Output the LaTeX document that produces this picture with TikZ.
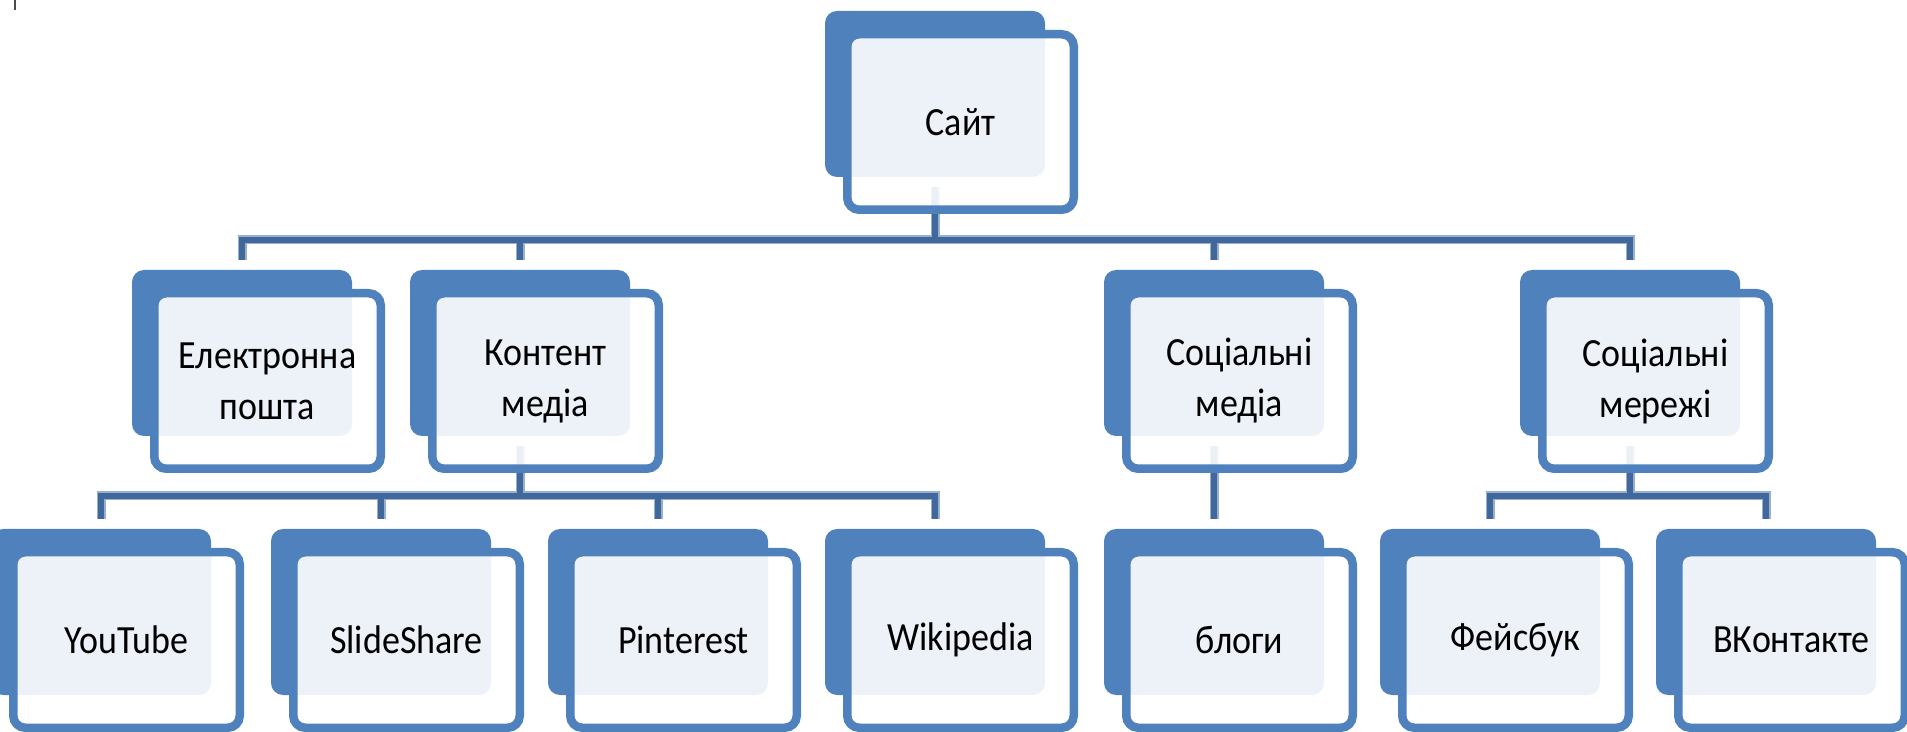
\documentclass[tikz,border=0pt]{standalone}
\usepackage{fontspec}
\setmainfont{Carlito}[FakeStretch=0.9]
\usepackage{tikz}
\usetikzlibrary{positioning,calc}
\definecolor{boxblue}{HTML}{4F81BD}
\definecolor{linkblue}{HTML}{41689D}
\definecolor{linkhalo}{HTML}{98AFCF}

\begin{document}
\begin{tikzpicture}[x=0.5pt,y=-0.5pt,
	back/.style={fill=boxblue,rounded corners=6pt,minimum width=110pt,minimum height=83pt,inner sep=0pt,outer sep=0pt},
	front/.style={draw=boxblue,line width=4.25pt,fill=white,fill opacity=0.9,text opacity=1,rounded corners=6pt,
		minimum width=113.25pt,minimum height=87.75pt,inner sep=0pt,outer sep=0pt,align=center,font=\fontsize{20}{25.5}\selectfont},
	halo/.style={linkhalo,line width=4.5pt},
	core/.style={linkblue,line width=3.25pt}]
	\useasboundingbox (0,0) rectangle (1907,732);
	\draw[black!70,line width=1pt] (15,0) -- (15,10);
	\foreach \n/\x/\y in {site/935/94,mail/242/353,content/520/353,smedia/1214/353,snet/1630/353,
		yt/101/612,ss/381/612,pin/658/612,wiki/935/612,blog/1214/612,fb/1490/612,vk/1766/612}
		\node[back] (\n) at (\x,\y) {};
	\coordinate (site-bus) at (site.south |- 0,240);
	\coordinate (content-bus) at (content.south |- 0,496);
	\coordinate (snet-bus) at (snet.south |- 0,496);
	\foreach \lk in {halo,core}{
		\draw[\lk] ([yshift=-5pt]site.south) -- (site-bus);
		\foreach \k in {mail,content,smedia,snet}
			\draw[\lk] ([yshift=5pt]\k.north) |- (site-bus);
		\draw[\lk] ([yshift=-5pt]content.south) -- (content-bus);
		\foreach \k in {yt,ss,pin,wiki}
			\draw[\lk] ([yshift=5pt]\k.north) |- (content-bus);
		\draw[\lk] ([yshift=-5pt]smedia.south) -- ([yshift=5pt]blog.north);
		\draw[\lk] ([yshift=-5pt]snet.south) -- (snet-bus);
		\foreach \k in {fb,vk}
			\draw[\lk] ([yshift=5pt]\k.north) |- (snet-bus);
	}
	\foreach \n/\t in {site/Сайт,mail/Електронна\\пошта,content/Контент\\медіа,smedia/Соціальні\\медіа,snet/Соціальні\\мережі,
		yt/YouTube,ss/SlideShare,pin/Pinterest,wiki/Wikipedia,blog/блоги,fb/Фейсбук,vk/ВКонтакте}
		\node[front,xshift=12.75pt,yshift=-14pt] (\n-f) at (\n) {\t};
\end{tikzpicture}
\end{document}
